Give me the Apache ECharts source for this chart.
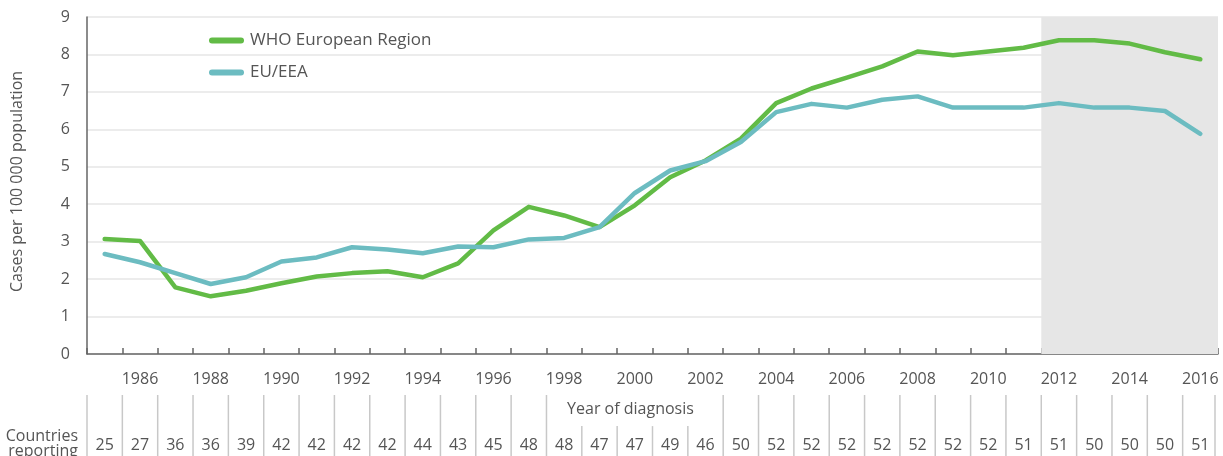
<!DOCTYPE html>
<html>
<head>
<meta charset="utf-8">
<script src="https://cdn.jsdelivr.net/npm/echarts@6/dist/echarts.min.js"></script>
<style>
html,body{margin:0;padding:0;background:#fff;}
#chart{width:1223px;height:456px;}
</style>
</head>
<body>
<div id="chart"></div>
<script>
var years = ['1985','1986','1987','1988','1989','1990','1991','1992','1993','1994','1995','1996','1997','1998','1999','2000','2001','2002','2003','2004','2005','2006','2007','2008','2009','2010','2011','2012','2013','2014','2015','2016'];
var whoEurope = [3.07,3.02,1.78,1.54,1.69,1.89,2.07,2.16,2.21,2.05,2.42,3.30,3.93,3.70,3.39,3.97,4.72,5.17,5.75,6.70,7.09,7.38,7.68,8.08,7.98,8.08,8.18,8.38,8.38,8.29,8.06,7.87];
var euEea = [2.67,2.45,2.16,1.87,2.05,2.47,2.58,2.85,2.79,2.69,2.87,2.85,3.06,3.10,3.39,4.30,4.90,5.15,5.66,6.46,6.68,6.58,6.79,6.88,6.58,6.58,6.58,6.70,6.58,6.58,6.49,5.88];
var countriesReporting = [25,27,36,36,39,42,42,42,42,44,43,45,48,48,47,47,49,46,50,52,52,52,52,52,52,52,51,51,50,50,50,51];
var shadedFrom = '2012';
var yTicks = {min:0, max:9, interval:1};

var FONT = '"Open Sans", "Noto Sans", sans-serif';
var TXT = '#555555';
var shortDividers = [14,15,16,17]; // dividers interrupted by the axis name
var shadeStart = years.indexOf(shadedFrom);

var chart = echarts.init(document.getElementById('chart'), null, {renderer:'canvas'});
var legendIcon = 'path://M3,0 L32,0 A3,3 0 0 1 32,6 L3,6 A3,3 0 0 1 3,0 Z';

chart.setOption({
  animation: false,
  textStyle: {fontFamily: FONT},
  grid: [
    {left: 87, right: 5, top: 17, bottom: 102},
    {left: 87, right: 5, top: 395, bottom: 0}
  ],
  legend: {
    orient: 'vertical',
    left: 209,
    top: 32,
    padding: 0,
    itemWidth: 35,
    itemHeight: 6,
    itemGap: 15,
    textStyle: {fontFamily: FONT, fontSize: 17, color: TXT, padding: [0,0,0,1]},
    data: [
      {name: 'WHO European Region', icon: legendIcon},
      {name: 'EU/EEA', icon: legendIcon}
    ]
  },
  xAxis: [
    {
      type: 'category', gridIndex: 0, data: years, boundaryGap: true,
      axisLine: {lineStyle: {color: '#666', width: 1.5}},
      axisTick: {show: true, inside: true, length: 6, interval: 0, lineStyle: {color: '#666', width: 1.5}},
      axisLabel: {interval: function(i){return i % 2 === 1;}, margin: 17, fontSize: 16, color: TXT, fontFamily: FONT},
      name: 'Year of diagnosis', nameLocation: 'middle', nameGap: 47,
      nameTextStyle: {fontSize: 16, color: TXT, fontFamily: FONT, padding: [0, 44, 0, 0]}
    },
    {type: 'value', gridIndex: 0, min: 0, max: years.length, show: false},
    {type: 'category', gridIndex: 1, data: years, boundaryGap: true, show: false}
  ],
  yAxis: [
    {
      type: 'value', gridIndex: 0, min: yTicks.min, max: yTicks.max, interval: yTicks.interval,
      axisLine: {show: true, lineStyle: {color: '#666', width: 1.5}},
      axisTick: {show: false},
      splitLine: {lineStyle: {color: '#e6e6e6', width: 1.5}},
      axisLabel: {margin: 17, fontSize: 16, color: TXT, fontFamily: FONT},
      name: 'Cases per 100 000 population', nameLocation: 'middle', nameGap: 62,
      nameTextStyle: {fontSize: 16, color: TXT, fontFamily: FONT, padding: [0, 0, 0, 8]}
    },
    {type: 'value', gridIndex: 1, min: 0, max: 1, show: false}
  ],
  graphic: [{
    type: 'text', x: 78, y: 444,
    style: {text: 'Countries\nreporting', align: 'right', verticalAlign: 'middle', lineHeight: 15, fontSize: 16, fontFamily: FONT, fill: TXT}
  }],
  series: [
    {
      name: 'shade', type: 'line', xAxisIndex: 1, yAxisIndex: 0, data: [], silent: true,
      markArea: {silent: true, itemStyle: {color: '#e6e6e6'}, data: [[{xAxis: shadeStart}, {xAxis: years.length}]]},
      z: 1
    },
    {
      name: 'WHO European Region', type: 'line', xAxisIndex: 0, yAxisIndex: 0, data: whoEurope,
      symbol: 'none', color: '#62bb46', lineStyle: {width: 4.5, color: '#62bb46', cap: 'round', join: 'round'}, z: 3
    },
    {
      name: 'EU/EEA', type: 'line', xAxisIndex: 0, yAxisIndex: 0, data: euEea,
      symbol: 'none', color: '#6cbcc1', lineStyle: {width: 4.5, color: '#6cbcc1', cap: 'round', join: 'round'}, z: 4
    },
    {
      name: 'table', type: 'custom', xAxisIndex: 2, yAxisIndex: 1, silent: true,
      data: countriesReporting.map(function(v, i){ return [i, v]; }),
      renderItem: function(params, api){
        var i = api.value(0);
        var bottom = api.coord([i, 0]);
        var top = api.coord([i, 1]);
        var mid = api.coord([i, 0.49]);
        var bw = api.size([1, 0])[0];
        var xl = bottom[0] - bw / 2;
        var children = [];
        var yTop = shortDividers.indexOf(i) >= 0 ? mid[1] : top[1];
        children.push({type: 'line', shape: {x1: xl, y1: yTop, x2: xl, y2: bottom[1]}, style: {stroke: '#c8c8c8', lineWidth: 1.5}});
        if (i === countriesReporting.length - 1) {
          var xr = bottom[0] + bw / 2 - 3;
          children.push({type: 'line', shape: {x1: xr, y1: top[1], x2: xr, y2: bottom[1]}, style: {stroke: '#c8c8c8', lineWidth: 1.5}});
        }
        children.push({type: 'text', style: {text: String(api.value(1)), x: bottom[0], y: bottom[1] - 11, align: 'center', verticalAlign: 'middle', fontSize: 16, fontFamily: FONT, fill: TXT}});
        return {type: 'group', children: children};
      }
    }
  ]
});
</script>
</body>
</html>
